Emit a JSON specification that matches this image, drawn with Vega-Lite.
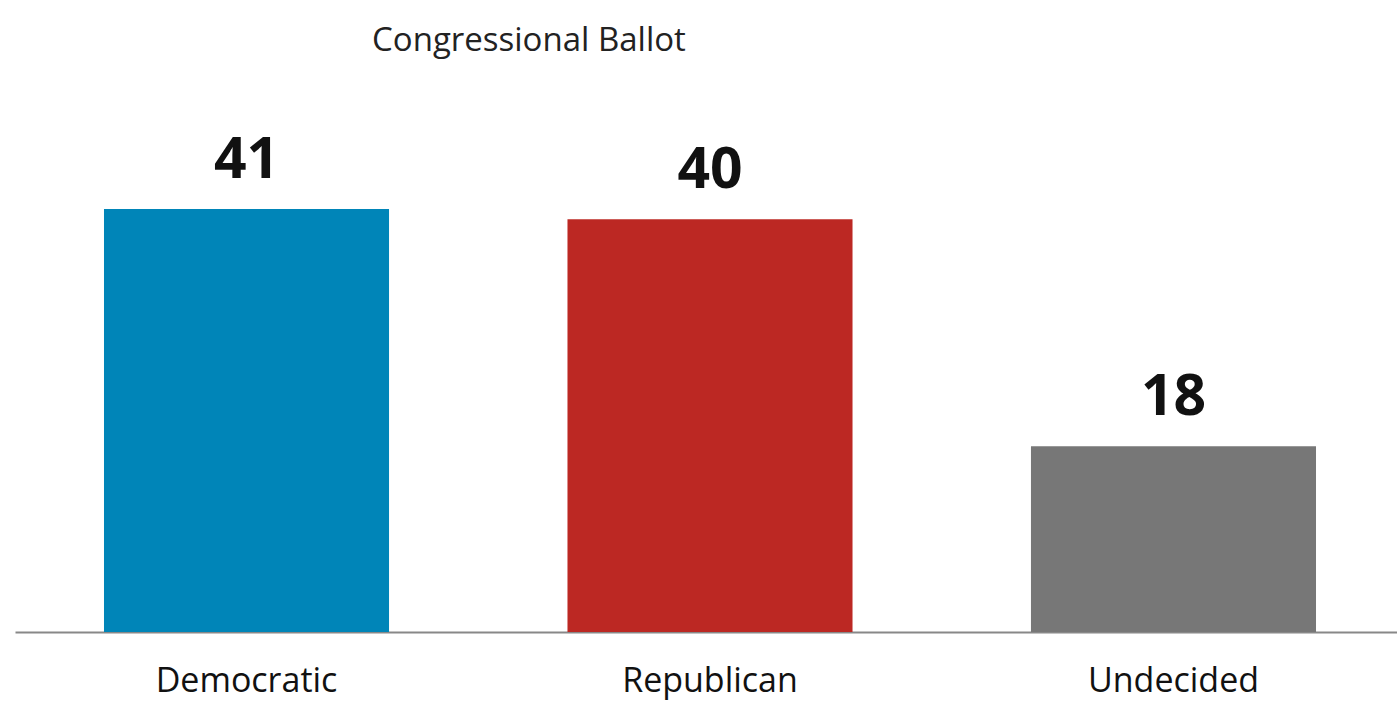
{
  "$schema": "https://vega.github.io/schema/vega-lite/v6.json",
  "autosize": {"type": "none"},
  "width": 1390,
  "height": 516,
  "padding": {"left": 15, "top": 116, "right": 0, "bottom": 69},
  "background": "#ffffff",
  "config": {"view": {"stroke": null}, "font": "Open Sans"},
  "title": {
    "text": "Congressional Ballot",
    "anchor": "start",
    "dx": 357,
    "offset": 58,
    "fontSize": 33,
    "fontWeight": "normal",
    "font": "Open Sans",
    "color": "#222222"
  },
  "data": {
    "values": [
      {"party": "Democratic", "pct": 41},
      {"party": "Republican", "pct": 40},
      {"party": "Undecided", "pct": 18}
    ]
  },
  "encoding": {
    "x": {
      "field": "party",
      "type": "nominal",
      "sort": null,
      "scale": {"paddingInner": 0.385, "paddingOuter": 0.192},
      "axis": {
        "title": null,
        "labelAngle": 0,
        "labelFontSize": 34,
        "labelColor": "#111111",
        "labelFont": "Open Sans",
        "labelPadding": 32,
        "labelLimit": 400,
        "ticks": false,
        "domainColor": "#888888",
        "domainWidth": 2,
        "grid": false
      }
    },
    "y": {
      "field": "pct",
      "type": "quantitative",
      "scale": {"domain": [0, 50]},
      "axis": null
    }
  },
  "layer": [
    {
      "mark": {"type": "bar"},
      "encoding": {
        "color": {
          "field": "party",
          "type": "nominal",
          "scale": {"domain": ["Democratic", "Republican", "Undecided"], "range": ["#0085B8", "#BC2823", "#777777"]},
          "legend": null
        }
      }
    },
    {
      "mark": {"type": "text", "baseline": "alphabetic", "dy": -31, "fontSize": 57, "fontWeight": "bold", "font": "Open Sans", "color": "#111111"},
      "encoding": {"text": {"field": "pct", "type": "quantitative"}}
    }
  ]
}
